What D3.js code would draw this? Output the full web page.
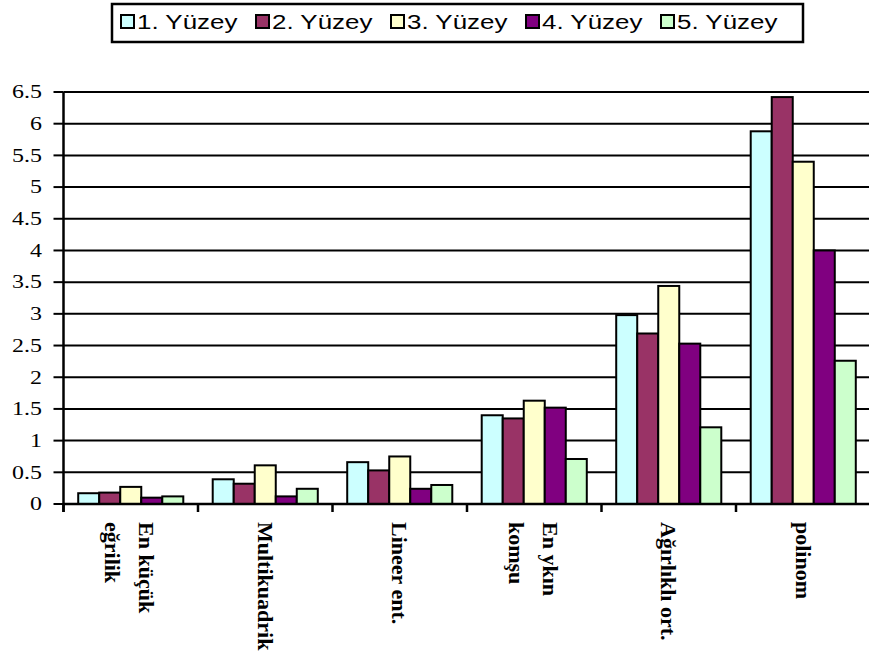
<!DOCTYPE html>
<html><head><meta charset="utf-8">
<script src="https://cdn.jsdelivr.net/npm/d3@7"></script>
<style>body{margin:0;background:#fff}svg{display:block}</style>
</head><body>
<script>
const categories = ["En küçük eğrilik","Multikuadrik","Lineer ent.","En ykın komşu","Ağırlıklı ort.","polinom"];
const categoryLines = [["En küçük","eğrilik"],["Multikuadrik"],["Lineer ent."],["En ykın","komşu"],["Ağırlıklı ort."],["polinom"]];
const seriesNames = ["1. Yüzey","2. Yüzey","3. Yüzey","4. Yüzey","5. Yüzey"];
const seriesColors = ["#CCFFFF","#993366","#FFFFCC","#800080","#CCFFCC"];
const s1 = [0.17, 0.39, 0.66, 1.40, 2.98, 5.88];
const s2 = [0.18, 0.32, 0.53, 1.35, 2.69, 6.42];
const s3 = [0.27, 0.61, 0.75, 1.63, 3.44, 5.40];
const s4 = [0.10, 0.12, 0.24, 1.52, 2.53, 4.00];
const s5 = [0.12, 0.24, 0.30, 0.71, 1.21, 2.26];
const seriesValues = [s1,s2,s3,s4,s5];
const yTicks = [0,0.5,1,1.5,2,2.5,3,3.5,4,4.5,5,5.5,6,6.5];
const yTickLabels = ["0","0.5","1","1.5","2","2.5","3","3.5","4","4.5","5","5.5","6","6.5"];

(function(){
const W=869,H=657;
const svg=d3.select("body").append("svg").attr("width",W).attr("height",H);
const pLeft=63.5, pRight=870.5, pTop=92, pBottom=504;
const x0=d3.scaleBand().domain(categories).range([pLeft,pRight]).paddingInner(0).paddingOuter(0);
const x1=d3.scaleBand().domain(seriesNames).range([0,x0.bandwidth()]).paddingInner(0).paddingOuter(0.7);
const y=d3.scaleLinear().domain([0,6.5]).range([pBottom,pTop]);

// gridlines
svg.append("g").selectAll("line").data(yTicks.filter(d=>d>0)).join("line")
  .attr("x1",pLeft).attr("x2",pRight).attr("y1",d=>y(d)).attr("y2",d=>y(d))
  .attr("stroke","#000").attr("stroke-width",2);

// bars
const groups=svg.append("g").selectAll("g").data(categories).join("g")
  .attr("transform",d=>`translate(${x0(d)},0)`);
groups.selectAll("rect").data((c,ci)=>seriesNames.map((s,si)=>({s,si,v:seriesValues[si][ci]}))).join("rect")
  .attr("x",d=>x1(d.s)).attr("width",x1.bandwidth())
  .attr("y",d=>y(d.v)).attr("height",d=>pBottom-y(d.v))
  .attr("fill",d=>seriesColors[d.si]).attr("stroke","#000").attr("stroke-width",2);

// y axis
const yAxis=svg.append("g");
yAxis.append("line").attr("x1",pLeft).attr("x2",pLeft).attr("y1",pTop).attr("y2",pBottom+8).attr("stroke","#000").attr("stroke-width",2.5);
yAxis.selectAll(".tk").data(yTicks).join("line").attr("class","tk")
  .attr("x1",pLeft-10).attr("x2",pLeft).attr("y1",d=>y(d)).attr("y2",d=>y(d))
  .attr("stroke","#000").attr("stroke-width",2);
yAxis.selectAll("text").data(yTicks).join("text")
  .attr("transform",d=>`translate(42,${y(d)}) scale(1.33,1)`)
  .attr("text-anchor","end").attr("dy","0.35em")
  .attr("font-family","Liberation Serif, Times New Roman, serif").attr("font-size",18)
  .text((d,i)=>yTickLabels[i]);

// x axis
const xAxis=svg.append("g");
xAxis.append("line").attr("x1",pLeft).attr("x2",pRight).attr("y1",pBottom).attr("y2",pBottom).attr("stroke","#000").attr("stroke-width",2.5);
const bounds=categories.map(c=>x0(c)).concat([pRight]);
xAxis.selectAll(".ct").data(bounds).join("line").attr("class","ct")
  .attr("x1",d=>d).attr("x2",d=>d).attr("y1",pBottom).attr("y2",pBottom+8)
  .attr("stroke","#000").attr("stroke-width",2.5);
categories.forEach((c,ci)=>{
  const lines=categoryLines[ci];
  const cx=x0(c)+x0.bandwidth()/2;
  lines.forEach((ln,li)=>{
    const off = lines.length===1 ? 0 : (li===0 ? 16 : -18);
    xAxis.append("text")
      .attr("transform",`translate(${cx+off},522) rotate(90)`)
      .attr("text-anchor","start").attr("dy","0.35em")
      .attr("font-family","Liberation Serif, Times New Roman, serif").attr("font-size",22).attr("font-weight","bold")
      .text(ln);
  });
});

// legend
const lg=svg.append("g");
lg.append("rect").attr("x",112).attr("y",4).attr("width",691).attr("height",38)
  .attr("fill","#fff").attr("stroke","#000").attr("stroke-width",2.5);
const items=lg.selectAll("g").data(seriesNames).join("g")
  .attr("transform",(d,i)=>`translate(${121+135*i},0)`);
items.append("rect").attr("x",0).attr("y",15).attr("width",13).attr("height",13)
  .attr("fill",(d,i)=>seriesColors[i]).attr("stroke","#000").attr("stroke-width",2);
items.append("text").attr("transform","translate(16,28.5) scale(1.33,1)")
  .attr("font-family","Liberation Sans, Arial, sans-serif").attr("font-size",19.5)
  .text(d=>d);
})();
</script>
</body></html>
